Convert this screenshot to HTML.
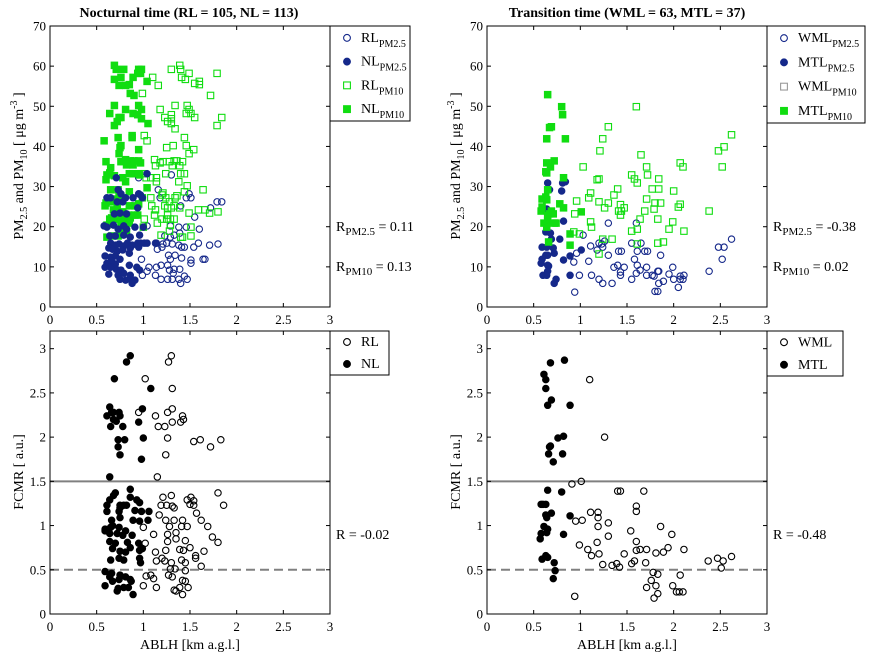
<!DOCTYPE html>
<html><head><meta charset="utf-8"><style>
html,body{margin:0;padding:0;background:#fff;}
svg{display:block;font-family:"Liberation Serif",serif;}
</style></head><body>
<svg id="chart" width="873" height="659" xmlns="http://www.w3.org/2000/svg">
<rect width="873" height="659" fill="#fff"/>
<text x="189" y="17" text-anchor="middle" font-size="14" font-weight="bold">Nocturnal time (RL = 105, NL = 113)</text>
<text x="627" y="17" text-anchor="middle" font-size="14" font-weight="bold">Transition time (WML = 63, MTL = 37)</text>
<text transform="translate(23,166) rotate(-90)" text-anchor="middle" font-size="14">PM<tspan font-size="10" dy="4">2.5</tspan><tspan dy="-4"> and PM</tspan><tspan font-size="10" dy="4">10</tspan><tspan dy="-4"> [  μg m</tspan><tspan font-size="10" dy="-6">-3</tspan><tspan dy="6"> ]</tspan></text>
<text transform="translate(460,166) rotate(-90)" text-anchor="middle" font-size="14">PM<tspan font-size="10" dy="4">2.5</tspan><tspan dy="-4"> and PM</tspan><tspan font-size="10" dy="4">10</tspan><tspan dy="-4"> [  μg m</tspan><tspan font-size="10" dy="-6">-3</tspan><tspan dy="6"> ]</tspan></text>
<text transform="translate(23,472) rotate(-90)" text-anchor="middle" font-size="14">FCMR [ a.u.]</text>
<text transform="translate(460,472) rotate(-90)" text-anchor="middle" font-size="14">FCMR [ a.u.]</text>
<text x="190" y="649" text-anchor="middle" font-size="14">ABLH [km a.g.l.]</text>
<text x="627" y="649" text-anchor="middle" font-size="14">ABLH [km a.g.l.]</text>
<text x="336" y="231" font-size="14">R<tspan font-size="11" dy="4">PM2.5</tspan><tspan dy="-4"> = 0.11</tspan></text>
<text x="336" y="271" font-size="14">R<tspan font-size="11" dy="4">PM10</tspan><tspan dy="-4"> = 0.13</tspan></text>
<text x="773" y="231" font-size="14">R<tspan font-size="11" dy="4">PM2.5</tspan><tspan dy="-4"> = -0.38</tspan></text>
<text x="773" y="271" font-size="14">R<tspan font-size="11" dy="4">PM10</tspan><tspan dy="-4"> = 0.02</tspan></text>
<text x="336" y="539" font-size="14">R = -0.02</text>
<text x="773" y="539" font-size="14">R = -0.48</text>
<g id="layer"></g>
</svg>
<script>
// ---- data ----
const xTicks = [0, 0.5, 1, 1.5, 2, 2.5, 3];
const xTickLabels = ["0", "0.5", "1", "1.5", "2", "2.5", "3"];
const pmTicks = [0, 10, 20, 30, 40, 50, 60, 70];
const fcmrTicks = [0, 0.5, 1, 1.5, 2, 2.5, 3];
const fcmrTickLabels = ["0", "0.5", "1", "1.5", "2", "2.5", "3"];
const fcmrThresholds = [1.5, 0.5];

const nlPm10 = [[0.69,60.2],[0.71,59.2],[0.79,59.2],[0.95,59.2],[0.98,59.2],[0.97,58.2],[0.94,58.2],[0.69,56.7],[0.76,57.2],[0.89,57.2],[0.81,55.2],[0.85,55.4],[0.74,55.2],[1.04,56.2],[0.86,53.2],[0.90,52.7],[0.69,50.2],[0.95,50.2],[0.98,49.2],[0.81,49.2],[0.64,48.2],[0.89,48.2],[0.94,47.9],[0.76,47.2],[0.74,47.2],[0.98,46.9],[0.72,46.2],[0.69,45.2],[1.05,45.7],[0.73,42.2],[0.88,42.7],[0.88,42.2],[0.58,41.4],[0.76,40.2],[0.75,39.7],[0.74,38.2],[0.95,39.2],[0.60,36.2],[0.76,36.2],[0.81,36.7],[0.86,36.4],[0.90,36.4],[0.95,36.4],[0.97,35.9],[0.65,34.7],[0.64,33.4],[0.61,32.9],[0.60,31.7],[0.78,32.2],[0.85,33.2],[0.88,33.2],[0.95,33.2],[0.96,32.9],[0.89,35.4],[0.82,35.4],[0.69,32.7],[0.81,31.2],[0.65,29.2],[0.73,29.2],[0.85,28.7],[1.04,29.7],[0.74,27.9],[0.70,26.9],[0.76,27.2],[0.66,26.2],[0.60,25.9],[0.59,25.2],[0.63,26.2],[0.72,25.2],[0.85,25.2],[0.91,25.2],[0.95,25.7],[0.99,27.2],[0.68,24.2],[0.70,23.4],[0.78,23.7],[0.84,22.9],[0.66,22.2],[0.74,21.9],[0.81,21.9],[0.86,22.2],[0.91,22.9],[0.94,22.9],[0.64,21.9],[0.68,21.9],[0.61,20.4],[0.76,20.9],[0.85,20.9],[1.00,19.9],[0.66,17.7],[0.61,17.4],[0.73,17.7],[0.82,18.9],[0.79,18.9]];
const rlPm10 = [[1.39,60.2],[1.30,59.2],[1.40,59.2],[1.49,58.2],[1.79,58.2],[1.41,57.2],[1.45,56.7],[1.10,57.2],[1.60,56.2],[1.55,55.7],[1.60,55.4],[1.16,55.2],[0.99,53.2],[1.72,52.7],[1.34,50.2],[1.47,50.2],[1.18,49.2],[1.49,49.2],[1.46,48.2],[1.51,48.2],[1.30,47.9],[1.23,47.2],[1.30,46.9],[1.55,47.2],[1.84,47.2],[1.26,46.2],[1.30,45.7],[1.79,45.2],[1.34,44.4],[1.01,42.7],[1.04,41.4],[1.44,42.2],[1.32,40.2],[1.25,39.7],[1.46,40.2],[1.54,39.2],[1.49,38.2],[1.12,36.7],[1.21,36.2],[1.28,36.2],[1.33,36.4],[1.36,36.4],[1.42,36.2],[1.18,35.9],[1.13,35.2],[1.31,35.2],[1.39,35.2],[1.01,33.2],[1.24,33.2],[1.40,33.2],[1.44,33.2],[1.03,32.2],[1.08,32.2],[1.14,32.2],[1.14,31.2],[1.38,31.2],[1.47,30.2],[1.21,28.4],[1.20,27.9],[1.44,28.7],[1.64,29.2],[1.08,27.2],[1.24,27.2],[1.28,26.2],[1.34,27.2],[1.36,27.7],[1.23,25.2],[1.26,24.7],[1.30,24.7],[1.33,25.2],[1.39,24.7],[1.09,25.2],[1.13,24.2],[1.49,23.4],[1.59,24.2],[1.66,24.2],[1.71,23.4],[1.80,23.7],[1.12,22.9],[1.20,21.9],[1.25,21.9],[1.29,21.9],[1.33,21.9],[1.26,22.9],[1.01,21.9],[1.15,20.9],[1.29,20.4],[1.51,19.9],[1.28,18.9],[1.19,17.9],[1.40,17.4],[1.42,17.4],[1.51,17.7]];
const rlPm25 = [[0.95,32.2],[1.00,33.2],[1.30,32.9],[1.16,29.2],[1.49,28.2],[1.46,27.2],[1.51,27.2],[1.79,26.2],[1.84,26.2],[1.18,27.2],[1.40,25.2],[1.72,24.7],[1.55,22.4],[1.04,20.2],[1.29,20.2],[1.38,19.9],[1.46,19.9],[1.60,19.4],[1.23,17.7],[1.29,17.4],[1.33,17.9],[1.39,18.4],[1.13,15.9],[1.21,15.7],[1.25,15.9],[1.31,15.7],[1.38,15.4],[1.41,14.9],[1.44,14.9],[1.54,14.9],[1.59,15.9],[1.71,15.4],[1.80,15.7],[1.15,14.4],[1.20,14.9],[1.27,12.9],[1.34,12.9],[0.98,11.9],[1.29,11.9],[1.41,12.2],[1.51,11.7],[1.51,10.9],[1.64,11.9],[1.66,11.9],[1.06,9.9],[1.14,9.9],[1.19,10.4],[1.26,10.4],[0.99,7.9],[1.04,8.9],[1.13,7.9],[1.28,9.2],[1.33,9.4],[1.39,9.4],[1.19,6.9],[1.26,6.9],[1.31,6.9],[1.38,6.9],[1.47,6.9],[1.44,7.7],[1.40,5.9],[1.32,8.4]];
const nlPm25 = [[0.71,32.2],[1.04,33.2],[0.73,29.2],[0.76,28.2],[0.95,28.2],[0.97,27.9],[0.61,27.2],[0.65,27.2],[0.81,27.2],[0.72,26.2],[0.78,26.2],[0.89,27.2],[0.99,27.2],[0.94,24.7],[0.69,23.2],[0.75,23.4],[0.82,23.2],[0.58,20.2],[0.61,19.9],[0.68,20.4],[0.73,19.4],[0.79,20.2],[0.82,19.4],[0.91,19.9],[1.00,19.9],[0.64,17.7],[0.70,17.7],[0.79,17.9],[0.86,17.4],[0.96,17.9],[0.65,15.9],[0.70,15.4],[0.74,15.7],[0.79,15.2],[0.83,15.9],[0.88,15.4],[0.94,15.9],[0.97,15.9],[1.01,15.9],[1.04,15.9],[1.14,15.9],[0.63,14.7],[0.67,14.4],[0.72,13.9],[0.78,14.2],[0.86,14.7],[0.95,14.9],[0.59,12.7],[0.65,12.4],[0.70,12.7],[0.75,11.9],[0.85,13.4],[0.61,10.9],[0.66,11.4],[0.70,10.7],[0.59,9.9],[0.65,9.9],[0.71,9.4],[0.76,9.2],[0.85,10.4],[0.93,9.9],[0.96,9.2],[0.63,8.2],[0.73,7.9],[0.79,8.4],[0.86,7.9],[0.75,6.9],[0.81,6.7],[0.87,6.9],[0.91,6.7],[0.88,5.9]];

const mtlPm10 = [[0.65,52.9],[0.80,49.9],[0.81,47.9],[0.67,44.7],[0.69,44.9],[0.64,41.9],[0.84,41.9],[0.72,36.4],[0.64,35.9],[0.68,34.9],[0.63,33.7],[0.64,33.4],[0.82,32.2],[0.65,29.2],[0.59,26.9],[0.63,27.4],[0.64,26.7],[0.78,25.7],[0.82,24.7],[0.59,24.9],[0.58,23.9],[0.69,23.9],[0.71,23.2],[0.67,23.2],[0.65,22.9],[1.01,23.7],[0.65,21.4],[0.61,20.9],[0.72,20.9],[0.74,20.9],[0.64,19.9],[0.89,18.2],[0.66,16.2],[0.89,15.4]];
const mtlPm25 = [[0.65,30.9],[0.81,30.9],[0.84,31.2],[0.67,29.2],[0.80,28.9],[0.64,24.4],[0.82,21.4],[0.64,19.7],[0.63,18.7],[0.68,18.4],[0.69,16.9],[0.78,16.9],[0.59,14.9],[0.64,14.9],[0.71,14.7],[0.72,13.4],[0.63,12.9],[0.65,12.9],[0.89,12.7],[1.01,14.2],[0.82,11.7],[0.59,11.9],[0.58,10.9],[0.65,10.4],[0.66,10.2],[0.65,8.9],[0.60,7.9],[0.64,7.9],[0.89,7.9],[0.74,6.9],[0.72,5.9]];
const wmlPm10 = [[1.60,49.9],[1.30,44.9],[1.24,41.9],[1.21,38.9],[1.65,37.9],[2.62,42.9],[2.48,38.9],[2.54,39.9],[1.03,34.9],[1.71,34.9],[2.07,35.9],[2.10,34.9],[2.52,34.9],[1.55,32.9],[1.72,32.9],[1.18,31.7],[1.20,31.9],[1.58,31.9],[1.61,30.9],[1.84,31.9],[1.40,29.4],[1.77,29.4],[1.84,29.4],[2.00,28.9],[1.11,28.4],[1.09,27.2],[0.96,26.4],[1.20,26.2],[1.30,25.9],[1.36,27.9],[1.71,26.9],[1.26,24.7],[1.43,25.5],[1.47,24.7],[1.41,23.9],[1.44,23.9],[1.43,22.9],[1.80,25.9],[1.86,25.9],[1.79,24.4],[1.69,23.9],[2.05,24.9],[2.07,25.6],[2.38,23.9],[0.94,23.2],[1.64,21.9],[1.83,21.9],[1.99,21.2],[1.11,21.2],[1.12,19.9],[1.55,18.9],[1.61,19.4],[1.95,19.4],[2.11,18.9],[0.93,18.7],[0.99,18.2],[1.24,16.9],[1.34,16.9],[1.61,15.7],[1.83,15.9],[1.89,16.2],[1.20,13.2]];
const wmlPm25 = [[1.30,20.9],[1.60,20.9],[1.03,17.9],[1.11,15.2],[1.20,15.9],[1.23,15.7],[1.26,16.4],[1.18,14.2],[1.24,14.9],[0.96,13.4],[1.30,12.9],[1.41,13.9],[1.44,13.9],[1.55,15.9],[1.65,15.9],[1.61,13.9],[1.69,13.9],[1.72,13.9],[1.86,12.9],[1.58,11.9],[1.09,11.4],[0.93,11.2],[1.36,9.9],[1.40,10.4],[1.47,9.9],[1.61,10.4],[1.64,9.2],[1.71,9.9],[1.99,9.9],[1.43,8.7],[1.43,7.9],[1.60,8.4],[1.71,7.9],[1.77,7.9],[1.79,7.7],[1.83,8.9],[1.84,8.9],[1.95,8.2],[2.07,7.7],[2.11,7.9],[2.07,6.9],[2.10,6.9],[2.00,6.9],[1.89,6.4],[1.84,5.9],[1.80,3.9],[1.83,3.9],[2.05,4.9],[0.99,7.9],[1.12,7.9],[1.20,6.9],[1.24,5.9],[1.34,5.9],[1.55,6.9],[0.94,3.7],[2.38,8.9],[2.48,14.9],[2.54,14.9],[2.52,11.9],[2.62,16.9]];

const nlFcmr = [[0.86,2.92],[0.82,2.85],[0.69,2.66],[1.08,2.55],[0.64,2.34],[0.66,2.28],[0.68,2.28],[0.61,2.24],[0.68,2.20],[0.71,2.18],[0.74,2.28],[0.75,2.24],[0.65,2.12],[0.78,2.12],[0.99,2.32],[0.95,2.17],[0.73,1.97],[0.80,1.97],[0.73,1.89],[0.75,1.80],[1.00,1.99],[0.98,1.75],[0.64,1.55],[0.86,1.41],[0.70,1.37],[0.68,1.34],[0.64,1.29],[0.61,1.23],[0.86,1.32],[0.93,1.29],[0.96,1.26],[0.75,1.23],[0.79,1.23],[0.82,1.23],[0.75,1.20],[0.74,1.16],[0.61,1.16],[0.91,1.17],[0.98,1.16],[1.06,1.16],[0.66,1.06],[0.75,1.09],[0.89,1.06],[0.96,1.05],[0.67,1.00],[0.59,0.96],[0.65,0.98],[0.74,0.98],[0.81,0.94],[0.88,0.89],[1.05,1.06],[0.64,0.91],[0.72,0.91],[0.78,0.89],[0.59,0.94],[0.64,0.82],[0.70,0.80],[0.83,0.81],[0.95,0.80],[0.99,0.74],[0.67,0.74],[0.75,0.71],[0.81,0.70],[0.86,0.75],[0.96,0.72],[0.65,0.61],[0.74,0.63],[0.79,0.61],[0.96,0.63],[0.97,0.58],[0.59,0.48],[0.66,0.46],[0.75,0.44],[0.81,0.42],[0.86,0.39],[0.87,0.37],[0.64,0.42],[0.67,0.37],[0.74,0.39],[0.59,0.32],[0.73,0.29],[0.79,0.30],[0.84,0.30],[0.89,0.22],[0.72,0.26]];
const rlFcmr = [[1.30,2.92],[1.27,2.85],[1.02,2.66],[1.31,2.55],[0.95,2.28],[1.13,2.24],[1.26,2.28],[1.31,2.32],[1.42,2.24],[1.43,2.20],[1.31,2.17],[1.40,2.17],[1.16,2.12],[1.23,2.12],[1.26,1.99],[1.54,1.95],[1.61,1.97],[1.83,1.97],[1.72,1.89],[1.24,1.80],[1.15,1.55],[1.21,1.32],[1.30,1.34],[1.19,1.23],[1.25,1.23],[1.31,1.22],[1.33,1.20],[1.17,1.12],[1.24,1.06],[1.33,1.06],[1.42,1.06],[1.51,1.32],[1.47,1.29],[1.50,1.24],[1.54,1.28],[1.54,1.23],[1.80,1.37],[1.86,1.23],[1.57,1.14],[1.62,1.06],[1.69,0.99],[1.28,0.99],[1.41,0.99],[1.47,0.99],[1.00,0.98],[1.11,0.90],[1.26,0.90],[1.35,0.92],[1.02,0.80],[1.26,0.82],[1.35,0.85],[1.45,0.83],[1.50,0.75],[1.13,0.70],[1.24,0.72],[1.20,0.63],[1.39,0.73],[1.43,0.72],[1.56,0.66],[1.65,0.71],[1.74,0.87],[1.80,0.81],[1.14,0.60],[1.23,0.60],[1.30,0.58],[1.41,0.61],[1.45,0.58],[1.56,0.63],[1.62,0.54],[1.29,0.51],[1.34,0.51],[1.45,0.49],[1.03,0.43],[1.08,0.44],[1.11,0.40],[1.27,0.44],[1.31,0.42],[1.42,0.38],[1.45,0.37],[1.00,0.32],[1.14,0.30],[1.33,0.27],[1.35,0.26],[1.39,0.30],[1.48,0.30],[1.42,0.22]];
const mtlFcmr = [[0.83,2.87],[0.68,2.84],[0.61,2.71],[0.63,2.65],[0.63,2.55],[0.69,2.42],[0.65,2.36],[0.89,2.36],[0.82,2.01],[0.76,1.99],[0.68,1.90],[0.67,1.89],[0.66,1.81],[0.81,1.81],[0.71,1.72],[0.65,1.40],[0.80,1.38],[0.58,1.24],[0.60,1.24],[0.63,1.24],[0.69,1.14],[0.63,1.12],[0.64,1.09],[0.89,1.11],[0.61,0.99],[0.65,0.96],[0.58,0.91],[0.64,0.92],[0.82,0.90],[0.57,0.85],[0.63,0.66],[0.65,0.64],[0.59,0.62],[0.72,0.58],[0.73,0.49],[0.71,0.40]];
const wmlFcmr = [[1.10,2.65],[1.26,2.00],[0.91,1.47],[1.01,1.50],[1.40,1.39],[1.43,1.39],[1.68,1.39],[1.60,1.22],[1.60,1.16],[1.11,1.15],[1.19,1.15],[1.19,1.09],[0.95,1.05],[1.02,1.06],[1.30,1.03],[1.19,0.99],[1.86,0.99],[1.54,0.94],[1.98,0.90],[1.30,0.88],[1.18,0.81],[1.60,0.82],[0.99,0.78],[1.08,0.73],[1.12,0.66],[1.20,0.68],[1.47,0.68],[1.60,0.72],[1.64,0.73],[1.71,0.73],[1.81,0.69],[1.89,0.70],[1.94,0.75],[2.11,0.73],[1.24,0.56],[1.34,0.55],[1.39,0.57],[1.42,0.53],[1.55,0.57],[1.58,0.60],[1.70,0.58],[2.37,0.60],[2.47,0.63],[2.53,0.60],[2.62,0.65],[2.51,0.52],[1.78,0.47],[1.83,0.45],[2.07,0.44],[1.76,0.38],[1.71,0.30],[1.81,0.32],[1.99,0.32],[2.03,0.25],[2.06,0.25],[2.10,0.25],[1.83,0.23],[1.79,0.18],[0.94,0.20]];

// ---- drawing ----
const NS = "http://www.w3.org/2000/svg";
const layer = document.getElementById("layer");
const BLUE = "#15288a", GREEN = "#10dd10";
function mk(tag, attrs, parent) {
  const e = document.createElementNS(NS, tag);
  for (const k in attrs) e.setAttribute(k, attrs[k]);
  (parent || layer).appendChild(e);
  return e;
}
function makePanel(x0, x1, yTop, yBot, ymax, yTicks, yLabels, name) {
  const g = mk("g", {});
  
  
  const sx = v => x0 + v / 3 * (x1 - x0);
  const sy = v => yBot - v / ymax * (yBot - yTop);
  return {g, sx, sy, x0, x1, yTop, yBot, yTicks, yLabels};
}
function drawFrame(p) {
  const {g, sx, sy, x0, x1, yTop, yBot} = p;
  mk("rect", {x: x0, y: yTop, width: x1 - x0, height: yBot - yTop, fill: "none", stroke: "#000", "stroke-width": 1}, g);
  xTicks.forEach((t, i) => {
    const x = sx(t);
    mk("line", {x1: x, x2: x, y1: yBot, y2: yBot - 4, stroke: "#000"}, g);
    mk("line", {x1: x, x2: x, y1: yTop, y2: yTop + 4, stroke: "#000"}, g);
    const tl = mk("text", {x: x, y: yBot + 17, "text-anchor": "middle", "font-size": 13}, g);
    
    
    tl.textContent = xTickLabels[i];
  });
  p.yTicks.forEach((t, i) => {
    const y = sy(t);
    mk("line", {x1: x0, x2: x0 + 4, y1: y, y2: y, stroke: "#000"}, g);
    mk("line", {x1: x1, x2: x1 - 4, y1: y, y2: y, stroke: "#000"}, g);
    const tl = mk("text", {x: x0 - 4, y: y + 4.5, "text-anchor": "end", "font-size": 13}, g);
    
    
    tl.textContent = p.yLabels[i];
  });
}
function circles(p, data, color, filled, name) {
  data.forEach(d => {
    const c = mk("circle", {cx: p.sx(d[0]), cy: p.sy(d[1]), r: 3.2, fill: filled ? color : "#fff", "fill-opacity": filled ? 1 : 0, stroke: color, "stroke-width": 1.1}, p.g);
    
    
  });
}
function squares(p, data, color, filled, name) {
  data.forEach(d => {
    const s = mk("rect", {x: p.sx(d[0]) - 3.2, y: p.sy(d[1]) - 3.2, width: 6.4, height: 6.4, fill: filled ? color : "none", stroke: color, "stroke-width": 1.1}, p.g);
    
    
  });
}
function hlines(p) {
  fcmrThresholds.forEach((v, i) => {
    const l = mk("line", {x1: p.x0, x2: p.x1, y1: p.sy(v), y2: p.sy(v), stroke: "#808080", "stroke-width": 2, "stroke-dasharray": i === 1 ? "9,5" : "none"}, p.g);
    
    
  });
}
function legend(x, y, w, h, entries, name) {
  const g = mk("g", {});
  
  
  mk("rect", {x: x, y: y, width: w, height: h, fill: "#fff", stroke: "#000"}, g);
  const step = h / entries.length;
  entries.forEach((e, i) => {
    const cy = y + step * (i + 0.5);
    const mx = x + 17;
    if (e.shape === "c") mk("circle", {cx: mx, cy: cy, r: 3.4, fill: e.filled ? e.color : "none", stroke: e.color, "stroke-width": 1.1}, g);
    else mk("rect", {x: mx - 3.4, y: cy - 3.4, width: 6.8, height: 6.8, fill: e.filled ? e.color : "none", stroke: e.color, "stroke-width": 1.1}, g);
    const t = mk("text", {x: mx + 14, y: cy + 4, "font-size": 14}, g);
    
    
    t.textContent = e.label;
    if (e.sub) {
      const s = mk("tspan", {"font-size": 10, dy: 5}, t);
      s.textContent = e.sub;
    }
  });
}

const pTL = makePanel(50, 330, 26, 307, 70, pmTicks, pmTicks.map(String), "panel-top-left");
const pTR = makePanel(487, 767, 26, 307, 70, pmTicks, pmTicks.map(String), "panel-top-right");
const pBL = makePanel(50, 330, 331, 614, 3.2, fcmrTicks, fcmrTickLabels, "panel-bottom-left");
const pBR = makePanel(487, 767, 331, 614, 3.2, fcmrTicks, fcmrTickLabels, "panel-bottom-right");

circles(pTL, rlPm25, BLUE, false, "rl-pm25-point");
squares(pTL, rlPm10, GREEN, false, "rl-pm10-point");
squares(pTL, nlPm10, GREEN, true, "nl-pm10-point");
circles(pTL, nlPm25, BLUE, true, "nl-pm25-point");
drawFrame(pTL);

circles(pTR, wmlPm25, BLUE, false, "wml-pm25-point");
squares(pTR, wmlPm10, GREEN, false, "wml-pm10-point");
circles(pTR, mtlPm25, BLUE, true, "mtl-pm25-point");
squares(pTR, mtlPm10, GREEN, true, "mtl-pm10-point");
drawFrame(pTR);

hlines(pBL);
circles(pBL, rlFcmr, "#000", false, "rl-fcmr-point");
circles(pBL, nlFcmr, "#000", true, "nl-fcmr-point");
drawFrame(pBL);

hlines(pBR);
circles(pBR, wmlFcmr, "#000", false, "wml-fcmr-point");
circles(pBR, mtlFcmr, "#000", true, "mtl-fcmr-point");
drawFrame(pBR);

legend(330, 26, 80, 95, [
  {shape: "c", filled: false, color: BLUE, label: "RL", sub: "PM2.5"},
  {shape: "c", filled: true, color: BLUE, label: "NL", sub: "PM2.5"},
  {shape: "s", filled: false, color: GREEN, label: "RL", sub: "PM10"},
  {shape: "s", filled: true, color: GREEN, label: "NL", sub: "PM10"}], "legend-top-left");
legend(767, 26, 98, 97, [
  {shape: "c", filled: false, color: BLUE, label: "WML", sub: "PM2.5"},
  {shape: "c", filled: true, color: BLUE, label: "MTL", sub: "PM2.5"},
  {shape: "s", filled: false, color: "#999", label: "WML", sub: "PM10"},
  {shape: "s", filled: true, color: GREEN, label: "MTL", sub: "PM10"}], "legend-top-right");
legend(330, 331, 59, 44, [
  {shape: "c", filled: false, color: "#000", label: "RL"},
  {shape: "c", filled: true, color: "#000", label: "NL"}], "legend-bottom-left");
legend(767, 331, 76, 45, [
  {shape: "c", filled: false, color: "#000", label: "WML"},
  {shape: "c", filled: true, color: "#000", label: "MTL"}], "legend-bottom-right");
</script>
</body></html>
